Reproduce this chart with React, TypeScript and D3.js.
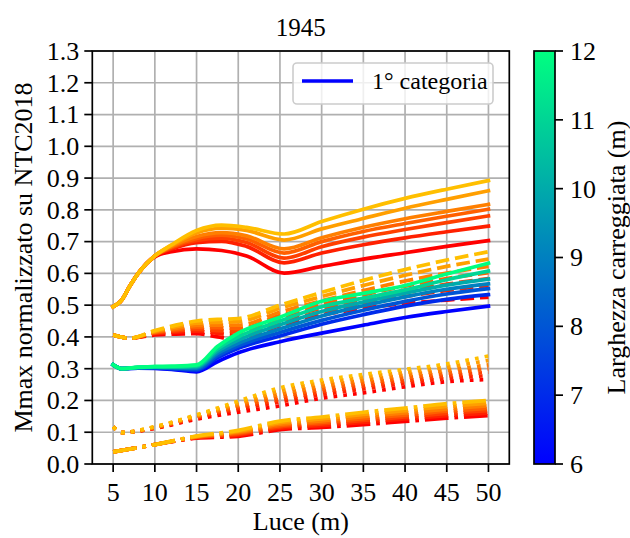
import * as d3 from "d3";
import { useEffect, useRef } from "react";

// widths (m) shown on the colorbar, one curve per width in every group
const widths = [6, 7, 8, 9, 10, 11, 12];

// solid warm curves
const solidWarmX = [5, 6, 7, 8, 10, 12, 15, 18, 21, 25.5, 30, 35, 40, 45, 50];
const solidWarm = [
  [0.495, 0.515, 0.56, 0.6, 0.652, 0.668, 0.677, 0.672, 0.655, 0.601, 0.622, 0.645, 0.665, 0.685, 0.703],
  [0.495, 0.515, 0.56, 0.6, 0.655, 0.677, 0.697, 0.701, 0.685, 0.633, 0.664, 0.69, 0.712, 0.731, 0.749],
  [0.495, 0.515, 0.56, 0.6, 0.655, 0.68, 0.704, 0.711, 0.697, 0.648, 0.684, 0.714, 0.738, 0.76, 0.781],
  [0.495, 0.515, 0.56, 0.6, 0.655, 0.683, 0.71, 0.72, 0.708, 0.664, 0.7, 0.732, 0.757, 0.78, 0.802],
  [0.495, 0.515, 0.56, 0.6, 0.655, 0.685, 0.716, 0.728, 0.718, 0.677, 0.712, 0.745, 0.772, 0.795, 0.817],
  [0.495, 0.515, 0.56, 0.6, 0.655, 0.688, 0.727, 0.742, 0.735, 0.705, 0.74, 0.773, 0.805, 0.833, 0.86],
  [0.495, 0.515, 0.56, 0.6, 0.655, 0.69, 0.735, 0.752, 0.745, 0.724, 0.763, 0.802, 0.836, 0.865, 0.892],
];

// solid cool curves (1° categoria)
const coolX = [5, 6, 8, 10, 12, 15, 17.5, 20, 25, 30, 35, 40, 45, 50];
const cool = [
  [0.312, 0.3, 0.302, 0.301, 0.298, 0.29, 0.322, 0.35, 0.385, 0.412, 0.437, 0.461, 0.48, 0.497],
  [0.312, 0.3, 0.302, 0.302, 0.3, 0.295, 0.334, 0.364, 0.403, 0.44, 0.47, 0.497, 0.518, 0.533],
  [0.312, 0.3, 0.303, 0.303, 0.301, 0.298, 0.34, 0.372, 0.414, 0.452, 0.484, 0.512, 0.535, 0.552],
  [0.312, 0.3, 0.303, 0.304, 0.303, 0.302, 0.348, 0.38, 0.425, 0.466, 0.498, 0.526, 0.55, 0.567],
  [0.312, 0.3, 0.304, 0.305, 0.305, 0.306, 0.355, 0.39, 0.438, 0.48, 0.51, 0.538, 0.563, 0.582],
  [0.312, 0.3, 0.304, 0.306, 0.306, 0.309, 0.362, 0.4, 0.45, 0.495, 0.522, 0.548, 0.58, 0.607],
  [0.312, 0.3, 0.305, 0.307, 0.308, 0.312, 0.37, 0.412, 0.462, 0.512, 0.537, 0.562, 0.598, 0.632],
];

// dashed warm curves
const dashedX = [5, 7, 10, 12.5, 15, 17.5, 20, 25, 30, 35, 40, 45, 50];
const dashed = [
  [0.406, 0.396, 0.406, 0.409, 0.41, 0.4, 0.392, 0.435, 0.468, 0.49, 0.505, 0.516, 0.525],
  [0.406, 0.396, 0.41, 0.415, 0.418, 0.411, 0.405, 0.447, 0.478, 0.503, 0.527, 0.546, 0.562],
  [0.406, 0.396, 0.412, 0.419, 0.424, 0.42, 0.417, 0.457, 0.49, 0.518, 0.544, 0.566, 0.584],
  [0.406, 0.396, 0.414, 0.423, 0.43, 0.429, 0.427, 0.467, 0.502, 0.532, 0.56, 0.584, 0.602],
  [0.406, 0.396, 0.416, 0.427, 0.436, 0.437, 0.437, 0.478, 0.514, 0.546, 0.576, 0.601, 0.622],
  [0.406, 0.396, 0.418, 0.432, 0.443, 0.446, 0.448, 0.49, 0.527, 0.562, 0.594, 0.622, 0.645],
  [0.406, 0.396, 0.42, 0.437, 0.45, 0.455, 0.458, 0.5, 0.54, 0.578, 0.612, 0.642, 0.668],
];

// dotted warm curves
const dottedX = [5, 6, 10, 15, 20, 25, 30, 35, 40, 45, 50];
const dotted = [
  [0.117, 0.099, 0.112, 0.141, 0.163, 0.183, 0.207, 0.224, 0.243, 0.259, 0.266],
  [0.117, 0.099, 0.113, 0.145, 0.172, 0.195, 0.218, 0.236, 0.254, 0.269, 0.278],
  [0.117, 0.099, 0.114, 0.147, 0.177, 0.203, 0.227, 0.245, 0.262, 0.277, 0.289],
  [0.117, 0.099, 0.115, 0.149, 0.182, 0.211, 0.236, 0.254, 0.271, 0.286, 0.3],
  [0.117, 0.099, 0.116, 0.151, 0.187, 0.22, 0.245, 0.263, 0.28, 0.295, 0.312],
  [0.117, 0.099, 0.117, 0.153, 0.192, 0.23, 0.255, 0.273, 0.289, 0.305, 0.326],
  [0.117, 0.099, 0.118, 0.155, 0.198, 0.24, 0.264, 0.282, 0.298, 0.315, 0.34],
];

// dash-dot warm curves
const dashDotX = [5, 10, 15, 20, 25, 30, 35, 40, 45, 50];
const dashDot = [
  [0.038, 0.061, 0.081, 0.087, 0.108, 0.115, 0.124, 0.134, 0.144, 0.152],
  [0.038, 0.061, 0.083, 0.091, 0.113, 0.121, 0.131, 0.142, 0.152, 0.16],
  [0.038, 0.061, 0.084, 0.094, 0.117, 0.126, 0.137, 0.148, 0.159, 0.168],
  [0.038, 0.061, 0.085, 0.097, 0.121, 0.131, 0.143, 0.154, 0.166, 0.175],
  [0.038, 0.061, 0.086, 0.1, 0.125, 0.136, 0.149, 0.161, 0.173, 0.183],
  [0.038, 0.061, 0.087, 0.103, 0.13, 0.142, 0.156, 0.168, 0.181, 0.191],
  [0.038, 0.061, 0.088, 0.106, 0.135, 0.148, 0.163, 0.176, 0.19, 0.2],
];

const xTicks = [5, 10, 15, 20, 25, 30, 35, 40, 45, 50];
const yTicks = d3.range(0, 14).map((i) => i / 10);
const cbTicks = [6, 7, 8, 9, 10, 11, 12];

const FONT = "'Liberation Serif', 'Times New Roman', serif";

const App = () => {
  const svgRef = useRef<SVGSVGElement>(null);

  useEffect(() => {
    const width = 630;
    const height = 538;
    const plot = { left: 92.3, right: 509.3, top: 51, bottom: 464 };

    const svg = d3.select(svgRef.current);
    svg.selectAll("*").remove();

    const xScale = d3.scaleLinear().domain([2.5, 52.5]).range([plot.left, plot.right]);
    const yScale = d3.scaleLinear().domain([0, 1.3]).range([plot.bottom, plot.top]);

    const warm = d3.interpolateRgb("#ff0000", "#ffbf00");
    const winter = d3.interpolateRgb("#0000ff", "#00ff80");
    const norm = d3.scaleLinear().domain([6, 12]).range([0, 1]);

    svg.append("rect").attr("width", width).attr("height", height).attr("fill", "white");

    // grid
    const grid = svg.append("g").attr("stroke", "#b0b0b0").attr("stroke-width", 1.7);
    xTicks.forEach((t) => {
      grid.append("line")
        .attr("x1", xScale(t)).attr("x2", xScale(t))
        .attr("y1", plot.top).attr("y2", plot.bottom);
    });
    yTicks.forEach((t) => {
      grid.append("line")
        .attr("x1", plot.left).attr("x2", plot.right)
        .attr("y1", yScale(t)).attr("y2", yScale(t));
    });

    const defs = svg.append("defs");
    defs.append("clipPath").attr("id", "plotclip")
      .append("rect")
      .attr("x", plot.left).attr("y", plot.top)
      .attr("width", plot.right - plot.left).attr("height", plot.bottom - plot.top);

    const lines = svg.append("g").attr("clip-path", "url(#plotclip)");
    const lw = 3.7;

    const drawGroup = (xs: number[], ys: number[][], color: (t: number) => string, dash: string | null) => {
      ys.forEach((vals, i) => {
        const line = d3
          .line<number>()
          .x((_, j) => xScale(xs[j]))
          .y((d) => yScale(d))
          .curve(d3.curveMonotoneX);
        const p = lines
          .append("path")
          .datum(vals)
          .attr("fill", "none")
          .attr("stroke", color(norm(widths[i])))
          .attr("stroke-width", lw)
          .attr("stroke-linejoin", "round")
          .attr("d", line);
        if (dash) p.attr("stroke-dasharray", dash).attr("stroke-linecap", "butt");
        else p.attr("stroke-linecap", "square");
      });
    };

    drawGroup(solidWarmX, solidWarm, warm, null);
    drawGroup(dashedX, dashed, warm, `${3.7 * lw} ${1.6 * lw}`);
    drawGroup(dottedX, dotted, warm, `${1 * lw} ${1.65 * lw}`);
    drawGroup(dashDotX, dashDot, warm, `${6.4 * lw} ${1.6 * lw} ${1 * lw} ${1.6 * lw}`);
    drawGroup(coolX, cool, winter, null);

    // spines
    svg.append("rect")
      .attr("x", plot.left).attr("y", plot.top)
      .attr("width", plot.right - plot.left).attr("height", plot.bottom - plot.top)
      .attr("fill", "none").attr("stroke", "black").attr("stroke-width", 1.7);

    const tickLen = 8;
    const fs = 26;

    // x axis
    const xa = svg.append("g");
    xTicks.forEach((t) => {
      xa.append("line")
        .attr("x1", xScale(t)).attr("x2", xScale(t))
        .attr("y1", plot.bottom).attr("y2", plot.bottom + tickLen)
        .attr("stroke", "black").attr("stroke-width", 1.7);
      xa.append("text")
        .attr("x", xScale(t)).attr("y", plot.bottom + 37)
        .attr("text-anchor", "middle")
        .attr("font-family", FONT).attr("font-size", fs)
        .text(t);
    });

    // y axis
    const ya = svg.append("g");
    yTicks.forEach((t) => {
      ya.append("line")
        .attr("x1", plot.left - tickLen).attr("x2", plot.left)
        .attr("y1", yScale(t)).attr("y2", yScale(t))
        .attr("stroke", "black").attr("stroke-width", 1.7);
      ya.append("text")
        .attr("x", plot.left - tickLen - 5)
        .attr("y", yScale(t))
        .attr("dy", "0.34em")
        .attr("text-anchor", "end")
        .attr("font-family", FONT).attr("font-size", fs)
        .text(d3.format(".1f")(t));
    });

    // title and axis labels
    svg.append("text")
      .attr("x", (plot.left + plot.right) / 2).attr("y", 36)
      .attr("text-anchor", "middle")
      .attr("font-family", FONT).attr("font-size", 25)
      .text("1945");
    svg.append("text")
      .attr("x", (plot.left + plot.right) / 2).attr("y", 530)
      .attr("text-anchor", "middle")
      .attr("font-family", FONT).attr("font-size", fs)
      .text("Luce (m)");
    svg.append("text")
      .attr("transform", `translate(32, ${(plot.top + plot.bottom) / 2}) rotate(-90)`)
      .attr("text-anchor", "middle")
      .attr("font-family", FONT).attr("font-size", fs)
      .text("Mmax normalizzato su NTC2018");

    // legend
    const lg = svg.append("g");
    lg.append("rect")
      .attr("x", 293).attr("y", 63).attr("width", 200).attr("height", 41)
      .attr("rx", 4)
      .attr("fill", "white").attr("fill-opacity", 0.8)
      .attr("stroke", "#cccccc").attr("stroke-width", 1.6);
    lg.append("line")
      .attr("x1", 302).attr("x2", 353).attr("y1", 81).attr("y2", 81)
      .attr("stroke", winter(0)).attr("stroke-width", lw);
    lg.append("text")
      .attr("x", 372).attr("y", 81).attr("dy", "0.34em")
      .attr("font-family", FONT).attr("font-size", 24)
      .text("1° categoria");

    // colorbar
    const cb = { left: 534, right: 555, top: 51, bottom: 464 };
    const grad = defs.append("linearGradient")
      .attr("id", "cbgrad").attr("x1", 0).attr("y1", 1).attr("x2", 0).attr("y2", 0);
    d3.range(0, 11).forEach((i) => {
      grad.append("stop").attr("offset", i / 10).attr("stop-color", winter(i / 10));
    });
    svg.append("rect")
      .attr("x", cb.left).attr("y", cb.top)
      .attr("width", cb.right - cb.left).attr("height", cb.bottom - cb.top)
      .attr("fill", "url(#cbgrad)")
      .attr("stroke", "black").attr("stroke-width", 1.7);
    const cbScale = d3.scaleLinear().domain([6, 12]).range([cb.bottom, cb.top]);
    cbTicks.forEach((t) => {
      svg.append("line")
        .attr("x1", cb.right).attr("x2", cb.right + tickLen)
        .attr("y1", cbScale(t)).attr("y2", cbScale(t))
        .attr("stroke", "black").attr("stroke-width", 1.7);
      svg.append("text")
        .attr("x", cb.right + tickLen + 7).attr("y", cbScale(t)).attr("dy", "0.34em")
        .attr("font-family", FONT).attr("font-size", fs)
        .text(t);
    });
    svg.append("text")
      .attr("transform", `translate(625, ${(cb.top + cb.bottom) / 2}) rotate(-90)`)
      .attr("text-anchor", "middle")
      .attr("font-family", FONT).attr("font-size", fs)
      .text("Larghezza carreggiata (m)");
  }, []);

  return (
    <svg
      ref={svgRef}
      width={630}
      height={538}
      style={{ position: "absolute", left: 0, top: 0, display: "block" }}
    ></svg>
  );
};

export default App;
